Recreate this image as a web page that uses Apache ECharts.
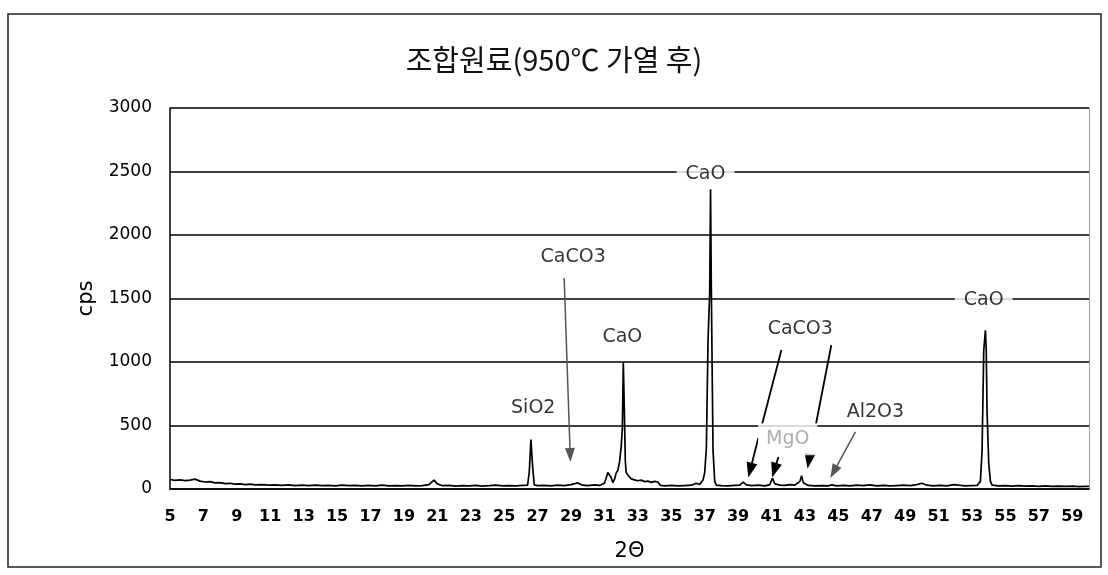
<!DOCTYPE html>
<html>
<head>
<meta charset="utf-8">
<script src="https://cdn.jsdelivr.net/npm/echarts@6/dist/echarts.min.js"></script>
<style>html,body{margin:0;padding:0;background:#fff}#c{width:1108px;height:575px}</style>
</head>
<body>
<div id="c"></div>
<script>
// 2theta (degrees)
const twoTheta = [5.0,5.3,5.6,5.9,6.2,6.5,6.8,7.1,7.4,7.7,8.0,8.3,8.6,8.9,9.2,9.5,9.8,10.1,10.5,10.9,11.3,11.7,12.1,12.5,12.9,13.3,13.7,14.1,14.5,14.9,15.3,15.7,16.1,16.5,16.9,17.3,17.7,18.1,18.5,18.9,19.3,19.7,20.1,20.5,20.8,21.0,21.3,21.7,22.1,22.5,22.9,23.3,23.7,24.1,24.5,24.9,25.3,25.7,26.1,26.4,26.5,26.6,26.7,26.8,27.0,27.4,27.8,28.2,28.6,29.0,29.4,29.7,30.0,30.4,30.7,31.0,31.1,31.2,31.3,31.4,31.5,31.6,31.7,31.8,31.9,32.0,32.07,32.13,32.2,32.25,32.3,32.4,32.5,32.6,32.7,32.8,32.9,33.0,33.2,33.4,33.6,33.8,34.0,34.2,34.35,34.6,35.0,35.4,35.8,36.2,36.5,36.7,36.9,37.0,37.1,37.2,37.3,37.35,37.4,37.45,37.5,37.6,37.7,38.0,38.4,38.8,39.1,39.3,39.5,39.8,40.2,40.6,40.9,41.05,41.2,41.5,41.8,42.1,42.4,42.7,42.8,42.9,43.2,43.6,44.0,44.4,44.6,44.9,45.3,45.7,46.1,46.5,46.9,47.3,47.7,48.1,48.5,48.9,49.3,49.7,50.0,50.3,50.7,51.1,51.5,51.9,52.2,52.6,53.0,53.3,53.5,53.6,53.7,53.8,53.85,53.9,54.0,54.1,54.2,54.6,55.0,55.4,55.8,56.2,56.6,57.0,57.4,57.8,58.2,58.6,59.0,59.4,59.8,60.0];
// intensity (cps)
const cps = [75,68,72,66,70,78,62,55,58,48,50,42,45,38,40,35,38,32,35,30,33,28,32,27,30,26,31,27,29,25,30,26,28,24,29,25,30,24,27,25,28,24,27,35,70,40,26,28,23,27,24,28,23,26,30,24,27,25,28,30,130,390,180,32,26,28,25,30,27,35,48,30,27,32,28,45,85,130,135,90,50,75,125,145,210,330,470,995,560,220,130,110,95,80,90,72,78,65,70,58,62,52,60,55,28,25,28,24,27,30,45,35,70,130,320,1170,1550,2360,1550,900,300,60,30,26,24,28,30,55,32,26,30,25,35,85,40,30,28,35,30,60,105,50,28,24,27,25,32,24,28,25,30,26,32,25,28,24,27,30,26,35,45,30,25,28,24,35,30,25,27,28,60,300,1090,1250,1100,600,200,60,30,25,27,23,26,22,25,21,24,20,23,20,22,19,21,20];

const yTicks = [0, 500, 1000, 1500, 2000, 2500, 3000];
const xLabelValues = [5,7,9,11,13,15,17,19,21,23,25,27,29,31,33,35,37,39,41,43,45,47,49,51,53,55,57,59];

// annotations (text + anchor in data units)
const annText = ['CaO', 'CaCO3', 'CaO', 'SiO2', 'CaCO3', 'MgO', 'Al2O3', 'CaO'];
const annX    = [37.05, 29.13, 32.07, 26.74, 42.72, 41.97, 47.22, 53.7];
const annY    = [2480, 1827, 1197, 638, 1260, 392, 606, 1488];

// arrow segments: start, end, arrowhead at end? (data units)
const arrowDark = [
  [[41.59, 1094], [40.44, 512], false],
  [[40.21, 402], [39.72, 148], true],
  [[44.58, 1134], [43.66, 512], false],
  [[43.29, 268], [43.23, 220], true],
  [[41.41, 252], [41.17, 147], true]
];
const arrowGray = [
  [[28.59, 1661], [28.95, 268], true],
  [[46.02, 449], [44.72, 135], true]
];

const chart = echarts.init(document.getElementById('c'));
const labelFont = 'DejaVu Sans';

const labelData = annText.map((t, i) => {
  const item = { value: [annX[i], annY[i]], name: t };
  if (t === 'MgO') {
    item.label = { color: '#9a9a9a', padding: [10, 8, 3, 8] };
  }
  return item;
});

const segs = list => list.map(a => [
  { coord: a[0], symbol: 'none' },
  { coord: a[1], symbol: a[2] ? 'triangle' : 'none' }
]);

chart.setOption({
  animation: false,
  backgroundColor: '#fff',
  title: {
    text: '조합원료(950℃ 가열 후)',
    left: 'center',
    top: 40,
    textStyle: { fontFamily: 'Noto Sans CJK KR', fontSize: 29, fontWeight: 'normal', color: '#111' }
  },
  grid: { left: 170, right: 19, top: 108, bottom: 86, containLabel: false },
  xAxis: {
    type: 'value', min: 5, max: 60, interval: 1,
    name: '2Θ', nameLocation: 'middle', nameGap: 52,
    nameTextStyle: { fontFamily: labelFont, fontSize: 21, color: '#000' },
    axisLine: { show: true, onZero: false, lineStyle: { color: '#000', width: 1.5 } },
    axisTick: { show: false },
    splitLine: { show: false },
    axisLabel: {
      margin: 20, fontFamily: labelFont, fontSize: 16, fontWeight: 'bold', color: '#000',
      formatter: v => (xLabelValues.indexOf(v) >= 0 ? String(v) : '')
    }
  },
  yAxis: [{
    type: 'value', min: yTicks[0], max: yTicks[yTicks.length - 1], interval: 500,
    name: 'cps', nameLocation: 'middle', nameGap: 73,
    nameTextStyle: { fontFamily: labelFont, fontSize: 21, color: '#000' },
    axisLine: { show: true, lineStyle: { color: '#000', width: 1.5 } },
    axisTick: { show: false },
    splitLine: { show: true, lineStyle: { color: '#000', width: 1.5 } },
    axisLabel: { margin: 18, fontFamily: labelFont, fontSize: 17, color: '#000',
      formatter: v => String(v) }
  }, {
    type: 'value', min: 0, max: 3000, interval: 500, position: 'right',
    axisLine: { show: true, lineStyle: { color: '#888', width: 1, type: 'dotted' } },
    axisTick: { show: false }, axisLabel: { show: false }, splitLine: { show: false }
  }],
  graphic: [{
    type: 'rect', z: 100, silent: true,
    shape: { x: 8, y: 14, width: 1093, height: 553 },
    style: { fill: 'none', stroke: '#222', lineWidth: 1.5 }
  }],
  series: [
    {
      type: 'line', name: 'XRD', z: 4,
      data: twoTheta.map((x, i) => [x, cps[i]]),
      showSymbol: false, symbol: 'none',
      lineStyle: { color: '#000', width: 1.7 }
    },
    {
      type: 'scatter', z: 2, data: [],
      markLine: {
        silent: true, z: 2, animation: false,
        symbol: ['none', 'triangle'], symbolSize: [11, 15],
        label: { show: false },
        lineStyle: { color: '#000', width: 1.8, type: 'solid' },
        data: segs(arrowDark)
      }
    },
    {
      type: 'scatter', z: 2, data: [],
      markLine: {
        silent: true, z: 2, animation: false,
        symbol: ['none', 'triangle'], symbolSize: [10, 14],
        label: { show: false },
        lineStyle: { color: '#555', width: 1.5, type: 'solid' },
        data: segs(arrowGray)
      }
    },
    {
      type: 'scatter', z: 20, zlevel: 1, symbolSize: 1,
      itemStyle: { color: 'rgba(0,0,0,0)' },
      data: labelData,
      label: {
        show: true, position: 'inside',
        formatter: p => p.name,
        fontFamily: labelFont, fontSize: 19, color: '#000',
        backgroundColor: '#fff', padding: [2, 9]
      }
    }
  ]
});
</script>
</body>
</html>
